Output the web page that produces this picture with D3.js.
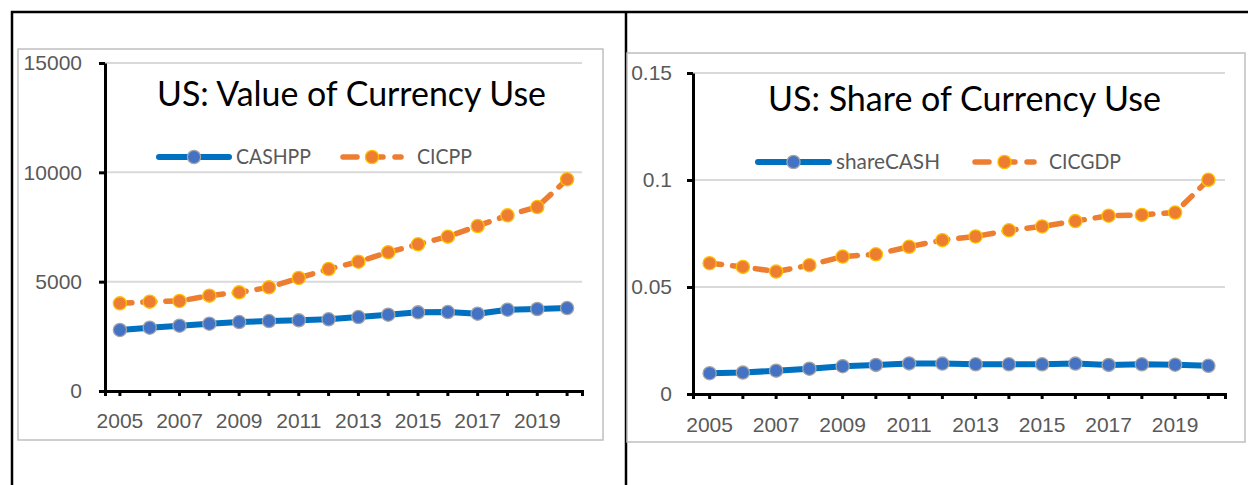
<!DOCTYPE html>
<html>
<head>
<meta charset="utf-8">
<script src="https://cdn.jsdelivr.net/npm/d3@7"></script>
<style>
 body{margin:0;background:#fff;}
 svg{display:block;font-family:Lato,"Open Sans",sans-serif;}
 .tick text{fill:#595959;font-size:21px;}
</style>
</head>
<body>
<div id="chart"></div>
<script>
// Data
var years = [2005,2006,2007,2008,2009,2010,2011,2012,2013,2014,2015,2016,2017,2018,2019,2020];
var xLabels = [2005,2007,2009,2011,2013,2015,2017,2019];

var cashPP = [2790,2895,2987,3078,3155,3200,3232,3278,3384,3490,3597,3612,3536,3719,3750,3795];
var cicPP  = [4009,4085,4116,4360,4512,4741,5168,5579,5914,6342,6708,7058,7545,8033,8414,9681];
var leftTicks = [0,5000,10000,15000];

var shareCash = [0.0097,0.0100,0.0109,0.0118,0.0130,0.0136,0.0143,0.0142,0.0139,0.0139,0.0139,0.0142,0.0136,0.0139,0.0137,0.0132];
var cicGDP    = [0.0611,0.0594,0.0572,0.0602,0.0642,0.0653,0.0688,0.0719,0.0736,0.0765,0.0783,0.0808,0.0833,0.0837,0.0848,0.1001];
var rightTicks = [0,0.05,0.1,0.15];

var W = 1248, H = 485;
var blue = "#0070C0", blueDot = "#4472C4", orange = "#ED7D31";

var svg = d3.select("#chart").append("svg")
 .attr("width", W).attr("height", H);

// table borders
svg.append("path")
 .attr("d","M12,485V12H1248M626,12V485")
 .attr("fill","none").attr("stroke","#000").attr("stroke-width",2.5);

function drawPanel(p){
 // chart area box
 svg.append("rect")
  .attr("x",p.box[0]).attr("y",p.box[1]).attr("width",p.box[2]).attr("height",p.box[3])
  .attr("fill","#fff").attr("stroke","#BFBFBF").attr("stroke-width",1.5);

 var x = d3.scaleBand().domain(years).range([p.left, p.right]);
 var y = d3.scaleLinear().domain([0, p.max]).range([p.bottom, p.top]);
 var cx = function(d,i){ return x(years[i]) + x.bandwidth()/2; };

 // gridlines
 svg.append("g").selectAll("line").data(p.ticks.slice(1)).enter().append("line")
  .attr("x1",p.left).attr("x2",p.right)
  .attr("y1",function(d){return y(d);}).attr("y2",function(d){return y(d);})
  .attr("stroke","#D9D9D9").attr("stroke-width",2);

 // y axis
 var ya = svg.append("g").attr("transform","translate(" + p.left + ",0)")
  .call(d3.axisLeft(y).tickValues(p.ticks).tickFormat(p.fmt).tickSize(6).tickSizeOuter(0).tickPadding(p.pad));
 ya.select(".domain").attr("stroke","#000").attr("stroke-width",3);
 ya.selectAll(".tick line").attr("stroke","#000").attr("stroke-width",3);

 // x axis
 var xa = svg.append("g").attr("transform","translate(0," + p.bottom + ")")
  .call(d3.axisBottom(x).tickSize(5).tickSizeOuter(5).tickPadding(p.xpad)
   .tickFormat(function(d){ return xLabels.indexOf(d) >= 0 ? d : ""; }));
 xa.select(".domain").attr("stroke","#000").attr("stroke-width",3);
 xa.selectAll(".tick line").attr("stroke","#000").attr("stroke-width",3);

 var line = d3.line().x(cx).y(function(d){ return y(d); });

 // series 1 (solid blue)
 svg.append("path").datum(p.s1)
  .attr("d",line).attr("fill","none").attr("stroke",blue).attr("stroke-width",6)
  .attr("stroke-linejoin","round");
 svg.append("g").selectAll("circle").data(p.s1).enter().append("circle")
  .attr("cx",cx).attr("cy",function(d){return y(d);}).attr("r",6.6)
  .attr("fill",blueDot).attr("stroke","#A5A5A5").attr("stroke-width",1.3);

 // series 2 (dashed orange)
 svg.append("path").datum(p.s2)
  .attr("d",line).attr("fill","none").attr("stroke",orange).attr("stroke-width",5.5)
  .attr("stroke-dasharray","12,11").attr("stroke-linecap","round");
 svg.append("g").selectAll("circle").data(p.s2).enter().append("circle")
  .attr("cx",cx).attr("cy",function(d){return y(d);}).attr("r",6.6)
  .attr("fill",orange).attr("stroke","#FFC000").attr("stroke-width",1.3);

 // title
 svg.append("text")
  .attr("x",p.title[0]).attr("y",p.title[1])
  .attr("textLength",p.title[2]).attr("lengthAdjust","spacingAndGlyphs")
  .attr("font-size",34).attr("fill","#000").text(p.titleText);

 // legend
 var L = p.leg, ly = L.y;
 svg.append("line").attr("x1",L.b[0]).attr("x2",L.b[1]).attr("y1",ly).attr("y2",ly)
  .attr("stroke",blue).attr("stroke-width",6).attr("stroke-linecap","round");
 svg.append("circle").attr("cx",(L.b[0]+L.b[1])/2).attr("cy",ly).attr("r",6.6)
  .attr("fill",blueDot).attr("stroke","#A5A5A5").attr("stroke-width",1.3);
 svg.append("text").attr("x",L.b[2]).attr("y",ly+7).attr("font-size",21)
  .attr("textLength",L.b[3]).attr("lengthAdjust","spacingAndGlyphs")
  .attr("fill","#595959").text(p.names[0]);
 svg.append("line").attr("x1",L.o[0]+3).attr("x2",L.o[1]-3).attr("y1",ly).attr("y2",ly)
  .attr("stroke",orange).attr("stroke-width",5.5).attr("stroke-linecap","round")
  .attr("stroke-dasharray","14,12");
 svg.append("circle").attr("cx",(L.o[0]+L.o[1])/2).attr("cy",ly).attr("r",6.6)
  .attr("fill",orange).attr("stroke","#FFC000").attr("stroke-width",1.3);
 svg.append("text").attr("x",L.o[2]).attr("y",ly+7).attr("font-size",21)
  .attr("textLength",L.o[3]).attr("lengthAdjust","spacingAndGlyphs")
  .attr("fill","#595959").text(p.names[1]);
}

drawPanel({
 box:[18,49,585,391], left:105, right:582, top:63, bottom:391, max:15000,
 ticks:leftTicks, fmt:d3.format("d"), pad:17, xpad:17,
 s1:cashPP, s2:cicPP, names:["CASHPP","CICPP"],
 title:[157,106,389], titleText:"US: Value of Currency Use",
 leg:{y:157, b:[159,229,236,75], o:[340,404,417,55]}
});

drawPanel({
 box:[627,53,618,389], left:693, right:1225, top:73, bottom:394, max:0.15,
 ticks:rightTicks, fmt:function(d){ return d === 0 ? "0" : String(d); }, pad:15, xpad:18,
 s1:shareCash, s2:cicGDP, names:["shareCASH","CICGDP"],
 title:[768,111,393], titleText:"US: Share of Currency Use",
 leg:{y:162, b:[758,829,836,104], o:[972,1037,1049,72]}
});
</script>
</body>
</html>
